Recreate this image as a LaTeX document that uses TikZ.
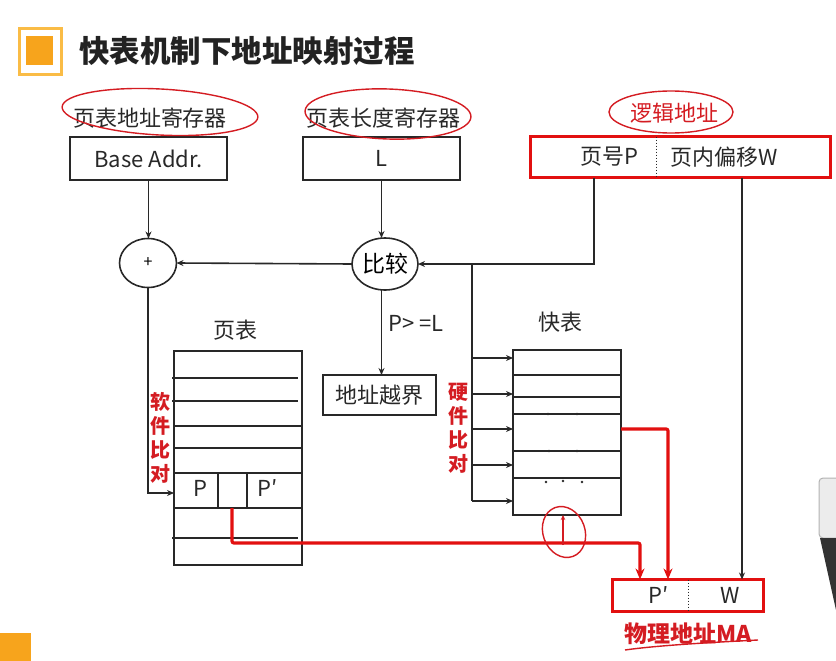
\documentclass[tikz,border=0pt]{standalone}
\usepackage{fontspec}
\newfontfamily\cjk{Noto Sans CJK SC}
\usetikzlibrary{shapes.geometric,arrows.meta,calc}
\definecolor{boxred}{RGB}{226,16,16}
\definecolor{inkred}{RGB}{212,28,34}
\definecolor{orangeA}{RGB}{247,164,28}
\definecolor{orangeB}{RGB}{250,188,70}
\definecolor{titlegray}{RGB}{34,34,34}
\definecolor{linegray}{RGB}{40,40,40}

\begin{document}
\begin{tikzpicture}[x=1pt,y=-1pt,
  every node/.style={font=\cjk, inner sep=0pt, outer sep=0pt},
  lbl/.style={font=\cjk\fontsize{22}{22}\selectfont, text=linegray},
  box/.style={draw=linegray, line width=1.7pt, lbl},
  redbox/.style={draw=boxred, line width=3.4pt},
  thin/.style={draw=linegray, line width=1.7pt},
  arr/.style={draw=linegray, line width=1.6pt, -{Stealth[length=7pt,width=6pt]}},
  redarr/.style={draw=boxred, line width=3.2pt, rounded corners=2pt, -{Stealth[length=11pt,width=9pt]}},
  ink/.style={draw=inkred, line width=1.4pt},
  vlbl/.style={font=\cjk\bfseries\fontsize{20}{24}\selectfont, text=inkred, align=center},
]
\useasboundingbox (0,0) rectangle (836,661);

% heading
\draw[orangeB, line width=3pt] (19.5,28.5) rectangle (61.5,74.5);
\fill[orangeA] (26,36) rectangle (53,65);
\node[font=\cjk\bfseries\fontsize{30.5}{30.5}\selectfont, text=titlegray, anchor=west] (title) at (79,51) {快表机制下地址映射过程};
\fill[orangeA] (0,633) rectangle (31,661);

% registers
\node[lbl] (ptrname) at (150,118) {页表地址寄存器};
\node[lbl] (lenname) at (383,118) {页表长度寄存器};
\node[box, minimum width=157, minimum height=43] (base) at (148.5,158.5) {Base Addr.};
\node[box, minimum width=157, minimum height=43] (lenreg) at (381.5,158.5) {L};

% logical address
\node[font=\cjk\fontsize{22}{22}\selectfont, text=inkred] (logname) at (674,113) {逻辑地址};
\node[redbox, minimum width=300, minimum height=41] (logic) at (680.5,157) {};
\node[lbl] (pageno) at (609,157) {页号P};
\node[lbl] (offset) at (724,157) {页内偏移W};
\coordinate (divx) at (656,0);
\draw[linegray, dotted, line width=1pt] (logic.north -| divx) -- (logic.south -| divx);

% adder and comparator
\node[draw=linegray, line width=1.6pt, ellipse, minimum width=57, minimum height=49] (plus) at (148,263) {\fontsize{16}{16}\selectfont +};
\node[draw=linegray, line width=1.6pt, ellipse, minimum width=66, minimum height=52, font=\cjk\fontsize{23}{23}\selectfont] (cmp) at (385,264) {比较};

\draw[arr] (base.south) -- (base.south |- plus.north);
\draw[arr] (lenreg.south) -- (lenreg.south |- cmp.north);
\draw[arr] (cmp.west) -- (plus.east);

\coordinate (pcol) at (594,0);
\coordinate (wcol) at (742,0);
\draw[arr] (logic.south -| pcol) |- (cmp.east);

% out of range
\node[lbl] (cond) at (416,323) {P> =L};
\node[box, minimum width=113, minimum height=40] (oob) at (379.5,395) {地址越界};
\draw[arr] (lenreg.south |- cmp.south) -- (lenreg.south |- oob.north);

% page table
\node[lbl] (ptname) at (235,330) {页表};
\node[draw=linegray, line width=1.7pt, minimum width=128, minimum height=214] (pt) at (238,458) {};
\draw[thin] (172,378) -- (298,378);
\draw[thin] (172,401) -- (298,401);
\draw[thin] (174,426) -- (302,426);
\draw[thin] (174,448) -- (302,448);
\draw[thin] (174,473) -- (302,473);
\draw[thin] (174,508) -- (302,508);
\draw[thin] (172,538) -- (298,538);
\draw[thin] (218,473) -- (218,508);
\draw[thin] (247,473) -- (247,508);
\node[lbl] (pp) at (200,488) {P};
\node[lbl] (pq) at (268,488) {P′};

\coordinate (ptin) at (174,493);
\draw[arr] (plus.south) |- (ptin);
\node[vlbl] (soft) at (160,438) {软\\件\\比\\对};

% TLB
\node[lbl] (tlbname) at (560,322) {快表};
\node[draw=linegray, line width=1.7pt, minimum width=108, minimum height=165] (tlb) at (567,432.5) {};
\foreach \y in {375,397,414,451,478} \draw[thin] (513,\y) -- (621,\y);
\foreach \p in {(548,414),(577,414),(549,451),(577,451),(546,482),(563,481),(582,482)}
  \fill[linegray] \p circle (1.4);

\coordinate (bustop) at (472,264);
\coordinate (busend) at (472,501);
\draw[thin, line width=1.6pt] (bustop) -- (busend);
\foreach \y [count=\i] in {358,394,429,465,501} {
  \coordinate (r\i) at (472,\y);
  \draw[arr] (r\i) -- (r\i -| tlb.west);
}
\node[vlbl] (hard) at (458,428) {硬\\件\\比\\对};

% physical address
\node[redbox, minimum width=151, minimum height=32] (ma) at (688,595.5) {};
\draw[linegray, dotted, line width=1pt] (ma.north) -- (ma.south);
\node[lbl] (maP) at (659,595) {P′};
\node[lbl] (maW) at (730,595) {W};
\node[font=\cjk\bfseries\fontsize{23}{23}\selectfont, text=inkred] (maname) at (688,634) {物理地址MA};

\draw[arr] (logic.south -| wcol) -- (wcol |- ma.north);

\coordinate (pcell) at (232,508);
\coordinate (redbend) at (640,543);
\coordinate (mcol) at (640,0);
\draw[redarr] (pcell) |- (redbend) -- (mcol |- ma.north);

\coordinate (hit) at (621,429);
\coordinate (hitcol) at (668,0);
\draw[redarr] (hit) -| (hitcol |- ma.north);

% hand-drawn marks
\draw[ink, rotate around={-3:(160,112)}] (160,112) ellipse [x radius=98, y radius=23];
\draw[ink, rotate around={-2:(388,114)}] (388,114) ellipse [x radius=83, y radius=25];
\draw[ink] (671,112) ellipse [x radius=62, y radius=21];
\draw[ink, rotate around={20:(564,532)}] (564,532) ellipse [x radius=21, y radius=26];
\draw[draw=inkred, line width=1.3pt, -{Stealth[length=5pt,width=4.5pt]}] (563,545) -- (563,515);
\draw[ink] (625,650) .. controls (660,645) and (720,642) .. (758,640);

% window edge at the right border
\draw[fill=gray!15, draw=gray!60, line width=1pt, rounded corners=4pt] (819,478) -- (819,538) -- (842,538) -- (842,478) -- cycle;
\fill[black!80] (820,538) -- (836,538) -- (836,610) -- cycle;

\end{tikzpicture}
\end{document}
